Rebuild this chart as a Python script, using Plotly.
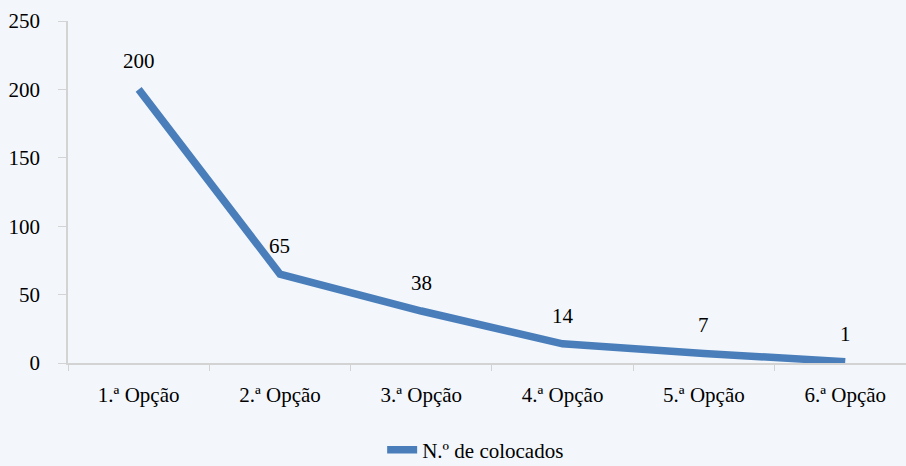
import plotly.graph_objects as go

# Data
opcoes = ['1.ª Opção', '2.ª Opção', '3.ª Opção', '4.ª Opção', '5.ª Opção', '6.ª Opção']
colocados = [200, 65, 38, 14, 7, 1]

BG = '#F3F7FB'
LINE = '#4A7EBB'
AXIS = '#D3D3D3'
FONT = 'Liberation Serif'

fig = go.Figure()

fig.add_trace(go.Scatter(
    x=opcoes, y=colocados,
    mode='lines',
    name='N.º de colocados',
    line=dict(color=LINE, width=7.5),
))

# Data labels above each point
for o, v in zip(opcoes, colocados):
    fig.add_annotation(x=o, y=v, text=str(v), showarrow=False, yshift=28,
                       font=dict(family=FONT, size=21, color='#000000'))

fig.update_layout(
    width=906, height=466,
    paper_bgcolor=BG, plot_bgcolor=BG,
    margin=dict(l=68, r=0, t=21, b=103, autoexpand=False),
    font=dict(family=FONT, size=21, color='#000000'),
    showlegend=True,
    legend=dict(orientation='h', xref='container', x=0.525, xanchor='center',
                y=-0.195, yanchor='top',
                font=dict(family=FONT, size=21), bgcolor='rgba(0,0,0,0)'),
)

fig.update_xaxes(
    type='category', range=[-0.5, 5.43],
    showline=True, linecolor=AXIS, linewidth=1.5,
    ticks='outside', tickson='boundaries', ticklen=6, tickcolor=AXIS,
    showgrid=False, zeroline=False, ticklabelstandoff=12,
)
fig.update_yaxes(
    range=[0, 250], tickvals=[0, 50, 100, 150, 200, 250],
    showline=True, linecolor=AXIS, linewidth=1.5,
    ticks='outside', ticklen=8, tickcolor=AXIS,
    showgrid=False, zeroline=False, ticklabelstandoff=14,
)

fig.write_html('out.html', config={'displayModeBar': False},
               post_script="document.body.style.margin='0';")
